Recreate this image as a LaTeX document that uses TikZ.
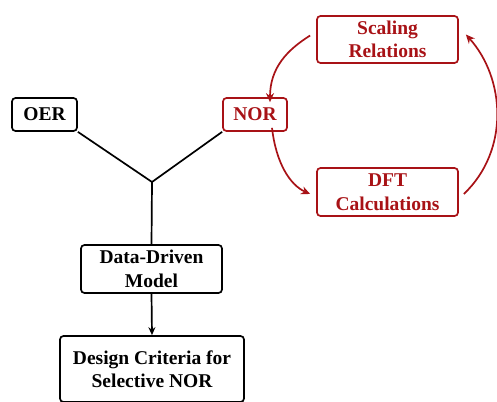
\documentclass[tikz,border=0pt]{standalone}
\usepackage{fontspec}
\setmainfont{Liberation Serif}
\usetikzlibrary{arrows.meta}
\definecolor{myred}{RGB}{168,18,22}
\begin{document}
\begin{tikzpicture}[x=1pt,y=-1pt,
  box/.style={draw,line width=1.7pt,rounded corners=3.5pt,inner sep=0pt,align=center,
    font=\fontsize{19.5}{23.5}\selectfont\bfseries},
  redbox/.style={box,draw=myred,text=myred},
  blk/.style={line width=1.7pt},
  redarr/.style={draw=myred,line width=1.7pt,-{Stealth[length=9pt,width=8pt]}},
  blkarr/.style={line width=1.7pt,-{Stealth[length=8pt,width=7pt]}}]
\useasboundingbox (0,0) rectangle (497,401);
\node[box,minimum width=65pt,minimum height=33pt] (oer) at (44.5,114.5) {OER};
\node[redbox,minimum width=64pt,minimum height=33pt] (nor) at (255,114.5) {NOR};
\node[redbox,minimum width=141pt,minimum height=47pt] (sc) at (387.5,39.5) {Scaling\\Relations};
\node[redbox,minimum width=141pt,minimum height=48pt] (dft) at (387.5,192) {DFT\\Calculations};
\node[box,minimum width=141pt,minimum height=48pt] (ddm) at (151.5,269) {Data-Driven\\Model};
\node[box,minimum width=184pt,minimum height=66pt] (dc) at (152,369) {Design Criteria for\\Selective NOR};
\coordinate (j) at (152,182);
\draw[blk] (oer.south east) -- (j) -- (nor.south west);
\draw[blk] (j) -- (ddm.north);
\draw[blkarr] (ddm.south) -- (dc.north);
\draw[redarr] ([xshift=-6pt,yshift=4pt]sc.west) .. controls (287,50) and (270,68) .. ([xshift=15pt,yshift=-5pt]nor.north);
\draw[redarr] ([xshift=17pt,yshift=4pt]nor.south) .. controls (276,163) and (290,185) .. ([xshift=-6pt,yshift=-2pt]dft.west);
\draw[redarr] ([xshift=5pt,yshift=-2pt]dft.east) .. controls (510,150) and (505,78) .. ([xshift=7pt,yshift=5pt]sc.east);
\end{tikzpicture}
\end{document}
